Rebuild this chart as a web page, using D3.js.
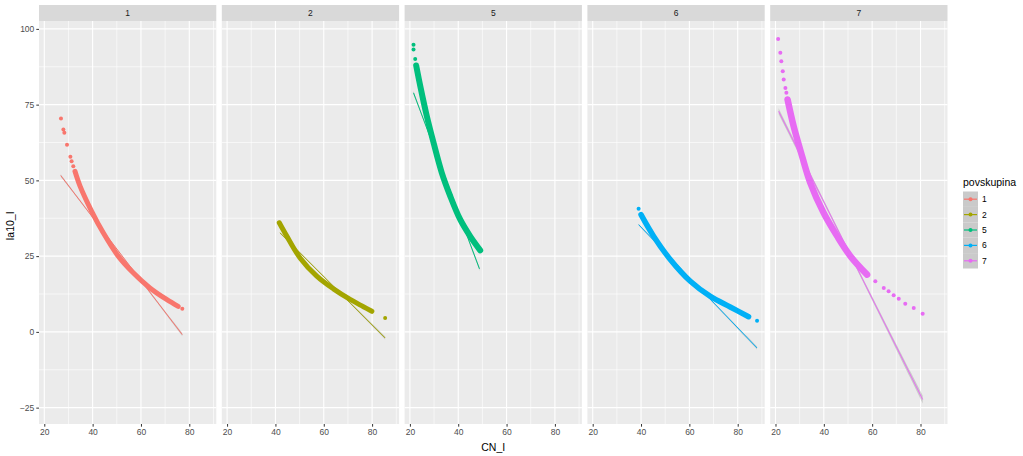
<!DOCTYPE html>
<html><head><meta charset="utf-8">
<script src="https://cdn.jsdelivr.net/npm/d3@7"></script>
<style>body{margin:0;background:#fff}svg{display:block;font-family:"Liberation Sans",Arial,sans-serif}</style>
</head><body><svg id="c" width="1023" height="456"></svg>
<script>
// ---- data ----
const groups = ["1","2","5","6","7"];
const colors = ["#F8766D","#A3A500","#00BF7D","#00B0F6","#E76BF3"];
const xTicks = [20,40,60,80];
const yTicks = [-25,0,25,50,75,100];
// dense part of each point cloud (CN_I, Ia10_I)
const band1x = [32.7,34.8,39.6,44.4,50.6,56.8,63.7,70.6,75.4];
const band1y = [53.0,48.1,39.8,32.7,25.0,19.5,14.5,10.7,8.4];
const band2x = [41.6,44.7,50.2,57.1,64.0,70.9,76.4,79.9];
const band2y = [36.0,31.6,24.4,18.4,14.2,10.7,8.3,6.8];
const band5x = [22.6,24.3,27.0,29.8,33.2,36.7,40.8,44.9,49.1];
const band5y = [87.9,81.1,71.2,62.4,52.5,44.8,37.1,31.6,26.9];
const band6x = [40.0,45.2,52.1,60.4,68.7,76.9,84.5];
const band6y = [38.7,31.6,23.9,16.7,11.7,8.2,5.0];
const band7x = [25.0,27.5,31.0,34.4,39.9,45.5,51.0,57.9];
const band7y = [76.7,67.9,58.0,49.2,39.3,31.6,25.0,18.9];
// isolated points
const pts1x = [26.9,27.9,28.3,29.4,30.8,31.3,32.0,77.1];
const pts1y = [70.4,66.8,65.7,61.8,57.8,56.3,54.7,7.6];
const pts2x = [41.6,85.4];
const pts2y = [36.0,4.6];
const pts5x = [21.5,21.5,22.2];
const pts5y = [94.8,93.2,90.1];
const pts6x = [39.0,88.0];
const pts6y = [40.6,3.7];
const pts7x = [21.1,22.0,22.4,23.0,23.4,24.1,24.5,61.3,64.8,66.8,68.9,71.0,73.7,77.2,80.9];
const pts7y = [96.7,92.1,89.3,86.0,83.3,80.5,78.9,16.7,14.5,13.4,12.1,10.9,9.3,7.9,6.0];
// linear fits: x ends and y ends
const fitX = [[26.8,77.1],[41.9,85.4],[21.5,48.8],[39.0,88.0],[21.3,80.9]];
const fitY = [[51.6,-0.9],[32.7,-2.0],[78.9,20.8],[35.4,-5.3],[72.8,-22.3]];
// standard error half-width at start, middle, end
const fitSE = [[0.4,0.1,0.5],[0.3,0.1,0.5],[0.6,0.1,0.6],[0.3,0.1,0.5],[1.0,0.2,1.3]];

const bandX=[band1x,band2x,band5x,band6x,band7x], bandY=[band1y,band2y,band5y,band6y,band7y];
const ptsX=[pts1x,pts2x,pts5x,pts6x,pts7x], ptsY=[pts1y,pts2y,pts5y,pts6y,pts7y];
const bandW=[5,5,6,5.5,6.5];

// ---- layout ----
const svg=d3.select("#c");
const L0=39, pw=177.3, gap=5.5, pT=21, pB=424, sT=5;
const y=d3.scaleLinear().domain([-30.4,102.6]).range([pB,pT]);
const x=d3.scaleLinear().domain([17.81,91.17]).range([0,pw]);
const tickCol="#4D4D4D";

groups.forEach((g,i)=>{
  const ox=L0+i*(pw+gap);
  const G=svg.append("g").attr("transform",`translate(${ox},0)`);
  G.append("rect").attr("x",0).attr("y",sT).attr("width",pw).attr("height",pT-sT).attr("fill","#D9D9D9");
  G.append("text").attr("x",pw/2).attr("y",(sT+pT)/2+3).attr("text-anchor","middle").attr("font-size",8.5).attr("fill","#1A1A1A").text(g);
  G.append("rect").attr("x",0).attr("y",pT).attr("width",pw).attr("height",pB-pT).attr("fill","#EBEBEB");
  const minorY=[-12.5,12.5,37.5,62.5,87.5], minorX=[30,50,70,90];
  minorY.forEach(v=>G.append("line").attr("x1",0).attr("x2",pw).attr("y1",y(v)).attr("y2",y(v)).attr("stroke","#fff").attr("stroke-width",0.6));
  minorX.forEach(v=>G.append("line").attr("y1",pT).attr("y2",pB).attr("x1",x(v)).attr("x2",x(v)).attr("stroke","#fff").attr("stroke-width",0.6));
  yTicks.forEach(v=>G.append("line").attr("x1",0).attr("x2",pw).attr("y1",y(v)).attr("y2",y(v)).attr("stroke","#fff").attr("stroke-width",1.1));
  xTicks.forEach(v=>G.append("line").attr("y1",pT).attr("y2",pB).attr("x1",x(v)).attr("x2",x(v)).attr("stroke","#fff").attr("stroke-width",1.1));
  const ax=G.append("g").attr("transform",`translate(0,${pB})`).call(d3.axisBottom(x).tickValues(xTicks).tickSize(2.7).tickPadding(2));
  ax.select(".domain").remove();
  ax.selectAll("line").attr("stroke","#333");
  ax.selectAll("text").attr("fill",tickCol).attr("font-size",8.5).attr("font-family","Liberation Sans, Arial, sans-serif");
  const col=colors[i];
  const fx=fitX[i], fy=fitY[i], se=fitSE[i];
  const xm=(fx[0]+fx[1])/2, ym=(fy[0]+fy[1])/2;
  const rib=[{x:fx[0],y:fy[0],s:se[0]},{x:xm,y:ym,s:se[1]},{x:fx[1],y:fy[1],s:se[2]}];
  G.append("path").datum(rib).attr("d",d3.area().x(d=>x(d.x)).y0(d=>y(d.y-d.s)).y1(d=>y(d.y+d.s)).curve(d3.curveBasis))
    .attr("fill","#999999").attr("fill-opacity",0.4);
  const bd=bandX[i].map((v,k)=>[v,bandY[i][k]]);
  G.append("path").datum(bd).attr("d",d3.line().x(d=>x(d[0])).y(d=>y(d[1])).curve(d3.curveCatmullRom))
    .attr("fill","none").attr("stroke",col).attr("stroke-width",bandW[i]).attr("stroke-linecap","round").attr("stroke-linejoin","round");
  const pd=ptsX[i].map((v,k)=>[v,ptsY[i][k]]);
  G.selectAll(null).data(pd).enter().append("circle").attr("cx",d=>x(d[0])).attr("cy",d=>y(d[1])).attr("r",2).attr("fill",col);
  G.append("line").attr("x1",x(fx[0])).attr("y1",y(fy[0])).attr("x2",x(fx[1])).attr("y2",y(fy[1])).attr("stroke",col).attr("stroke-width",1);
});

const ay=svg.append("g").attr("transform",`translate(${L0},0)`).call(d3.axisLeft(y).tickValues(yTicks).tickSize(2.7).tickPadding(2));
ay.select(".domain").remove();
ay.selectAll("line").attr("stroke","#333");
ay.selectAll("text").attr("fill",tickCol).attr("font-size",8.5).attr("font-family","Liberation Sans, Arial, sans-serif");

const R0=L0+5*pw+4*gap;
svg.append("text").attr("x",(L0+R0)/2).attr("y",451).attr("text-anchor","middle").attr("font-size",10.5).attr("fill","#000").text("CN_I");
svg.append("text").attr("transform",`translate(14,226) rotate(-90)`).attr("text-anchor","middle").attr("font-size",10.5).attr("fill","#000").text("Ia10_I");

const lgx=963, lgy=191.5, kh=15.4, kw=15;
svg.append("text").attr("x",lgx).attr("y",186).attr("font-size",10.5).attr("fill","#000").text("povskupina");
groups.forEach((g,i)=>{
  const yy=lgy+i*kh;
  svg.append("rect").attr("x",lgx).attr("y",yy).attr("width",kw).attr("height",kh).attr("fill","#CACACA");
  svg.append("line").attr("x1",lgx+1).attr("x2",lgx+kw-1).attr("y1",yy+kh/2).attr("y2",yy+kh/2).attr("stroke",colors[i]).attr("stroke-width",1.2);
  svg.append("circle").attr("cx",lgx+kw/2).attr("cy",yy+kh/2).attr("r",2).attr("fill",colors[i]);
  svg.append("text").attr("x",lgx+kw+4).attr("y",yy+kh/2+3).attr("font-size",8.5).attr("fill","#000").text(g);
});
</script></body></html>
